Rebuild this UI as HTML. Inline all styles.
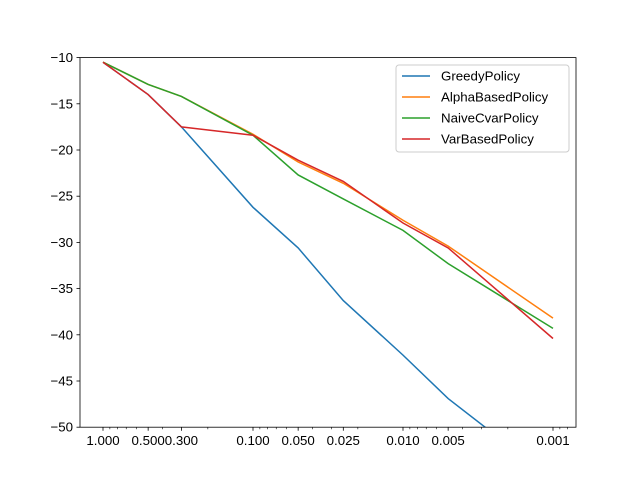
<!DOCTYPE html>
<html><head><meta charset="utf-8"><style>body{margin:0;background:#fff}svg{display:block;font-family:"Liberation Sans","DejaVu Sans",sans-serif}</style></head>
<body>
<svg id="chart" width="640" height="480"></svg>
<script>
const xValues=[1,0.5,0.3,0.1,0.05,0.025,0.01,0.005,0.001];
const xTickLabels=["1.000","0.500","0.300","0.100","0.050","0.025","0.010","0.005","0.001"];
const yTicks=[-10,-15,-20,-25,-30,-35,-40,-45,-50];
const seriesNames=["GreedyPolicy","AlphaBasedPolicy","NaiveCvarPolicy","VarBasedPolicy"];
const greedy=[-10.5,-14.0,-17.5,-26.2,-30.6,-36.3,-42.2,-46.9,-55.7];
const alpha=[-10.5,-12.9,-14.2,-18.3,-21.3,-23.6,-27.6,-30.4,-38.2];
const naive=[-10.5,-12.9,-14.2,-18.4,-22.7,-25.3,-28.7,-32.3,-39.3];
const varb=[-10.5,-14.0,-17.5,-18.4,-21.1,-23.4,-27.9,-30.6,-40.4];
const colors=["#1f77b4","#ff7f0e","#2ca02c","#d62728"];
const NS="http://www.w3.org/2000/svg";
const svg=document.getElementById('chart');
const L=80,R=576,T=57.6,B=427.2;
const xl0=Math.log10(1)+23/150, xl1=-3-23/150;
function X(v){return L+(xl0-Math.log10(v))/(xl0-xl1)*(R-L);}
function Y(v){return T+(-10-v)/40*(B-T);}
function el(tag,at,txt){const e=document.createElementNS(NS,tag);for(const k in at)e.setAttribute(k,at[k]);if(txt!==undefined)e.textContent=txt;svg.appendChild(e);return e;}
const defs=el('defs',{});const cp=document.createElementNS(NS,'clipPath');cp.setAttribute('id','clip');
const cr=document.createElementNS(NS,'rect');cr.setAttribute('x',L);cr.setAttribute('y',T);cr.setAttribute('width',R-L);cr.setAttribute('height',B-T);cp.appendChild(cr);defs.appendChild(cp);
const allS=[greedy,alpha,naive,varb];
allS.forEach((s,i)=>{
 const p=el('polyline',{points:s.map((v,j)=>X(xValues[j])+','+Y(v)).join(' '),fill:'none',stroke:colors[i],'stroke-width':1.5,'clip-path':'url(#clip)'});
 
 
});
const frame=el('rect',{x:L,y:T,width:R-L,height:B-T,fill:'none',stroke:'#000','stroke-width':0.8});


// minor ticks
for(let d=0;d>=-4;d--){for(let m=2;m<=9;m++){const v=m*Math.pow(10,d-1);const x=X(v);if(x<L||x>R)continue;
 if(xValues.some(t=>Math.abs(t-v)<1e-9))continue;el('line',{x1:x,x2:x,y1:B,y2:B+2,stroke:'#000','stroke-width':0.6});}}
xValues.forEach((v,i)=>{const x=X(v);el('line',{x1:x,x2:x,y1:B,y2:B+3.5,stroke:'#000','stroke-width':0.8});
 const t=el('text',{x:x,y:B+18,'text-anchor':'middle','font-size':13.3},xTickLabels[i]);
 
 });
yTicks.forEach(v=>{const y=Y(v);el('line',{x1:L-3.5,x2:L,y1:y,y2:y,stroke:'#000','stroke-width':0.8});
 const t=el('text',{x:L-7,y:y+4.5,'text-anchor':'end','font-size':13.3},'\u2212'+Math.abs(v));
 
 });
const lg=el('rect',{x:396,y:65,width:173,height:87,rx:3,fill:'#fff','fill-opacity':0.8,stroke:'#ccc','stroke-width':1});


seriesNames.forEach((n,i)=>{const y=76+i*21;el('line',{x1:402,x2:430,y1:y,y2:y,stroke:colors[i],'stroke-width':1.5});
 const t=el('text',{x:441,y:y+4.5,'font-size':13.3},n);
 
 });
</script>
</body></html>
